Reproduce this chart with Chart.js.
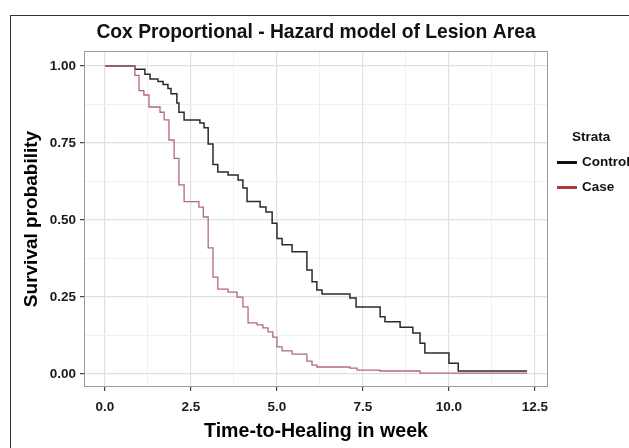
<!DOCTYPE html>
<html>
<head>
<meta charset="utf-8">
<script src="https://cdn.jsdelivr.net/npm/chart.js@4/dist/chart.umd.min.js"></script>
<style>
  html, body { margin: 0; padding: 0; background: #fff; }
  canvas { display: block; }
</style>
</head>
<body>
<canvas id="kmChart" width="629" height="448"></canvas>
<script>
// Kaplan-Meier style survival steps (time in weeks, survival after the drop)
const controlTime = [0, 0.87, 1.16, 1.31, 1.54, 1.69, 1.83, 1.92, 2.09, 2.15, 2.30, 2.76, 2.88, 3.00, 3.14, 3.28, 3.58, 3.87, 4.01, 4.13, 4.51, 4.68, 4.86, 5.00, 5.15, 5.44, 5.87, 6.02, 6.16, 6.31, 7.12, 7.30, 8.00, 8.14, 8.58, 8.95, 9.16, 9.30, 10.00, 10.27, 12.27];
const controlSurv = [1.00, 0.99, 0.973, 0.958, 0.95, 0.94, 0.927, 0.91, 0.88, 0.85, 0.825, 0.815, 0.80, 0.747, 0.68, 0.656, 0.646, 0.63, 0.604, 0.56, 0.542, 0.526, 0.49, 0.44, 0.42, 0.397, 0.338, 0.30, 0.273, 0.26, 0.247, 0.218, 0.186, 0.17, 0.152, 0.133, 0.10, 0.068, 0.035, 0.01, 0.01];

const caseTime = [0, 0.87, 0.99, 1.13, 1.28, 1.60, 1.72, 1.86, 2.01, 2.15, 2.30, 2.73, 2.86, 3.00, 3.14, 3.28, 3.58, 3.84, 4.01, 4.16, 4.42, 4.59, 4.74, 4.88, 5.00, 5.15, 5.44, 5.87, 6.02, 6.16, 7.12, 7.33, 8.00, 9.16, 12.27];
const caseSurv = [1.00, 0.97, 0.92, 0.906, 0.867, 0.85, 0.825, 0.76, 0.70, 0.614, 0.56, 0.542, 0.51, 0.41, 0.315, 0.276, 0.266, 0.25, 0.218, 0.166, 0.16, 0.15, 0.137, 0.12, 0.088, 0.075, 0.065, 0.042, 0.029, 0.023, 0.019, 0.013, 0.01, 0.003, 0.003];

const xGrid = [0, 1.25, 2.5, 3.75, 5, 6.25, 7.5, 8.75, 10, 11.25, 12.5];
const yGrid = [0, 0.125, 0.25, 0.375, 0.5, 0.625, 0.75, 0.875, 1];
const xMajor = [0, 2.5, 5, 7.5, 10, 12.5];
const yMajor = [0, 0.25, 0.5, 0.75, 1];

const FONT = 'Liberation Sans';

function pts(t, s) {
    return t.map((v, i) => ({ x: v, y: s[i] }));
}
function isMajor(list, v) {
    return list.some(m => Math.abs(m - v) < 1e-6);
}

// frame, panel border and strata legend
const decor = {
    id: 'decor',
    afterDraw(chart) {
        const c = chart.ctx;
        const a = chart.chartArea;
        c.save();
        c.strokeStyle = '#9a9a9a';
        c.lineWidth = 1;
        c.strokeRect(a.left + 0.5, a.top + 0.5, a.right - a.left - 1, a.bottom - a.top - 1);

        c.strokeStyle = '#333';
        c.strokeRect(10.5, 15.5, 800, 600);

        c.fillStyle = '#111';
        c.font = 'bold 13.5px "' + FONT + '"';
        c.textBaseline = 'middle';
        c.textAlign = 'left';
        c.fillText('Strata', 572, 137);

        c.fillStyle = '#111';
        c.fillRect(557, 161, 20, 3);
        c.fillText('Control', 582, 162);

        c.fillStyle = '#b03a3a';
        c.fillRect(557, 186, 20, 3);
        c.fillStyle = '#111';
        c.fillText('Case', 582, 187);
        c.restore();
    }
};

const data = {
    datasets: [{
        label: 'Case',
        data: pts(caseTime, caseSurv),
        borderColor: '#b4697a',
        borderWidth: 1.3,
        stepped: 'before',
        pointRadius: 0,
        fill: false
    }, {
        label: 'Control',
        data: pts(controlTime, controlSurv),
        borderColor: '#2b2b2b',
        borderWidth: 1.5,
        stepped: 'before',
        pointRadius: 0,
        fill: false
    }]
};

const config = {
    type: 'line',
    data: data,
    plugins: [decor],
    options: {
        responsive: false,
        animation: false,
        devicePixelRatio: 1,
        layout: {
            padding: { left: 0, right: 81, top: 0, bottom: 0 }
        },
        plugins: {
            legend: { display: false },
            tooltip: { enabled: false },
            title: {
                display: true,
                text: 'Cox Proportional - Hazard model of Lesion Area',
                fullSize: false,
                color: '#111',
                font: { family: FONT, size: 19.3, weight: 'bold' },
                padding: { top: 21.4, bottom: 6.4 }
            }
        },
        scales: {
            x: {
                type: 'linear',
                min: -0.61,
                max: 12.88,
                afterBuildTicks: s => { s.ticks = xGrid.map(v => ({ value: v })); },
                afterFit: s => { s.height = 61; },
                border: { display: false },
                grid: {
                    color: ctx => isMajor(xMajor, ctx.tick.value) ? '#e0e0e0' : '#f0f0f0',
                    lineWidth: ctx => isMajor(xMajor, ctx.tick.value) ? 1.2 : 1,
                    tickColor: ctx => isMajor(xMajor, ctx.tick.value) ? '#444' : 'rgba(0,0,0,0)',
                    tickLength: 4
                },
                ticks: {
                    autoSkip: false,
                    maxRotation: 0,
                    padding: 8,
                    color: '#1a1a1a',
                    font: { family: FONT, size: 13.5, weight: 'bold' },
                    callback: v => isMajor(xMajor, v) ? v.toFixed(1) : ''
                },
                title: {
                    display: true,
                    text: 'Time-to-Healing in week',
                    color: '#000',
                    font: { family: FONT, size: 19.6, weight: 'bold' },
                    padding: { top: 4, bottom: 4.3 }
                }
            },
            y: {
                min: -0.042,
                max: 1.049,
                afterBuildTicks: s => { s.ticks = yGrid.map(v => ({ value: v })); },
                afterFit: s => { s.width = 84; },
                border: { display: false },
                grid: {
                    color: ctx => isMajor(yMajor, ctx.tick.value) ? '#e0e0e0' : '#f0f0f0',
                    lineWidth: ctx => isMajor(yMajor, ctx.tick.value) ? 1.2 : 1,
                    tickColor: ctx => isMajor(yMajor, ctx.tick.value) ? '#444' : 'rgba(0,0,0,0)',
                    tickLength: 4
                },
                ticks: {
                    autoSkip: false,
                    padding: 4,
                    color: '#1a1a1a',
                    font: { family: FONT, size: 13.5, weight: 'bold' },
                    callback: v => isMajor(yMajor, v) ? v.toFixed(2) : ''
                },
                title: {
                    display: true,
                    text: 'Survival probability',
                    color: '#000',
                    font: { family: FONT, size: 19, weight: 'bold' },
                    padding: { top: 20.6, bottom: 4 }
                }
            }
        }
    }
};

const myChart = new Chart(document.getElementById('kmChart'), config);
</script>
</body>
</html>
